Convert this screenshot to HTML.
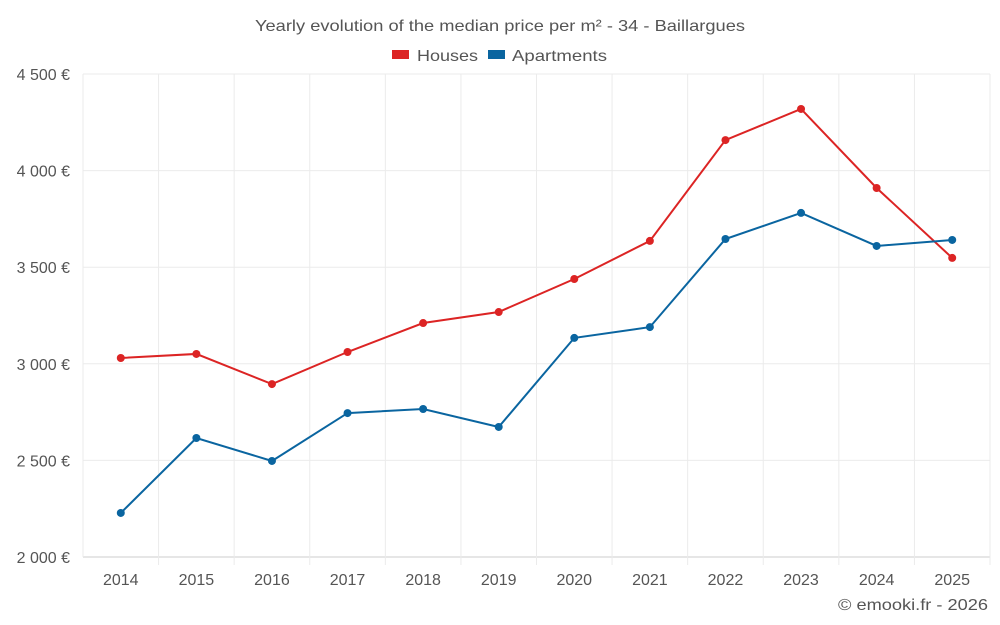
<!DOCTYPE html>
<html><head><meta charset="utf-8"><style>
body{margin:0;background:#fff;font-family:"Liberation Sans",sans-serif;}
svg{display:block}
</style></head><body>
<svg id="chart" width="1000" height="625">
<text x="500" y="31" text-anchor="middle" font-size="16" fill="#555" textLength="490" lengthAdjust="spacingAndGlyphs">Yearly evolution of the median price per m² - 34 - Baillargues</text>
<g>
<g><rect x="392" y="50" width="17" height="9" fill="#dc2424"/><text x="417" y="61" font-size="16" fill="#555" textLength="61" lengthAdjust="spacingAndGlyphs">Houses</text></g>
<g><rect x="488" y="50" width="17" height="9" fill="#0a65a0"/><text x="512" y="61" font-size="16" fill="#555" textLength="95" lengthAdjust="spacingAndGlyphs">Apartments</text></g>
</g>
<g id="grid"></g><g id="axes"></g><g id="series"></g>
<text x="988" y="610" text-anchor="end" font-size="16" fill="#555" textLength="150" lengthAdjust="spacingAndGlyphs">© emooki.fr - 2026</text>
</svg>
<script>
const years=[2014,2015,2016,2017,2018,2019,2020,2021,2022,2023,2024,2025];
const houses=[3030,3051,2895,3061,3211,3268,3439,3636,4158,4319,3910,3548];
const apartments=[2228,2616,2497,2745,2766,2673,3134,3190,3646,3781,3610,3641];
const yTicks=[2000,2500,3000,3500,4000,4500];
const yTickLabels=["2 000 €","2 500 €","3 000 €","3 500 €","4 000 €","4 500 €"];
const L=83,R=990,T=74,B=557,ymin=2000,ymax=4500;
const step=(R-L)/years.length;
const xs=i=>L+step*(i+0.5);
const ys=v=>B-(v-ymin)/(ymax-ymin)*(B-T);
const NS="http://www.w3.org/2000/svg";
function mk(tag,attrs,parent){const e=document.createElementNS(NS,tag);for(const k in attrs)e.setAttribute(k,attrs[k]);parent.appendChild(e);return e;}
const grid=document.getElementById('grid'),axes=document.getElementById('axes'),series=document.getElementById('series');
yTicks.forEach((t,i)=>{
 const l=mk('line',{x1:L,x2:R,y1:ys(t),y2:ys(t),stroke:i==0?'#ccc':'#ebebeb','stroke-width':1},grid);
 
 
 const tx=mk('text',{x:70,y:ys(t)+6,'text-anchor':'end','font-size':16,fill:'#555'},axes);
 tx.textContent=yTickLabels[i];
 
 
});
for(let i=0;i<=years.length;i++){
 const l=mk('line',{x1:L+step*i,x2:L+step*i,y1:T,y2:B+(i==0?0:8),stroke:'#ebebeb','stroke-width':1},grid);
 
 
}
years.forEach((y,i)=>{
 const tx=mk('text',{x:xs(i),y:585,'text-anchor':'middle','font-size':16,fill:'#555'},axes);
 tx.textContent=y;
 
 
});
function draw(data,color,name){
 const p=mk('polyline',{points:data.map((v,i)=>xs(i)+','+ys(v)).join(' '),fill:'none',stroke:color,'stroke-width':2},series);
 
 
 data.forEach((v,i)=>{
  const c=mk('circle',{cx:xs(i),cy:ys(v),r:4,fill:color},series);
  
  
 });
}
draw(houses,'#dc2424','houses');
draw(apartments,'#0a65a0','apartments');
</script>
</body></html>
